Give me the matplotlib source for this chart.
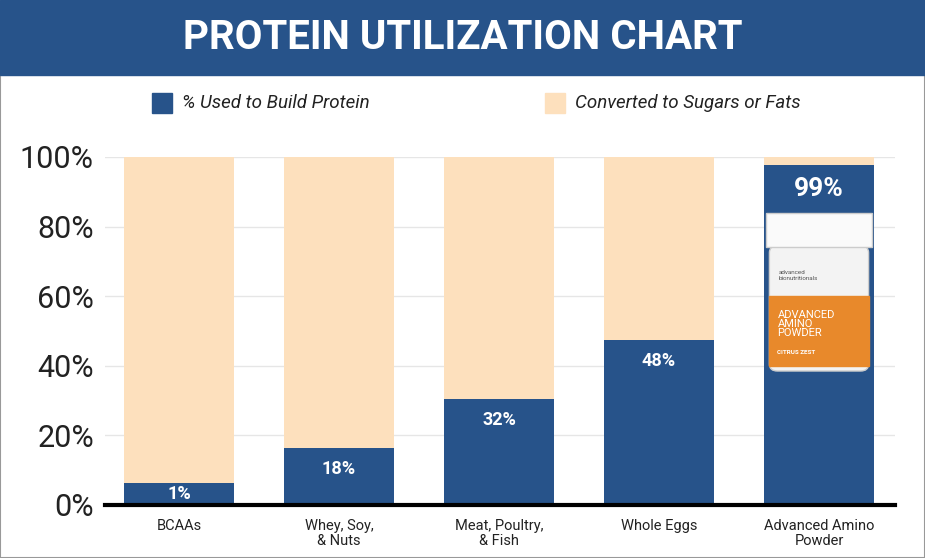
import matplotlib
matplotlib.use('Agg')
from matplotlib import pyplot as plt
from matplotlib.patches import FancyBboxPatch, Rectangle

plt.rcParams['font.family'] = ['Roboto', 'DejaVu Sans']

categories = ['BCAAs', 'Whey, Soy,\n& Nuts', 'Meat, Poultry,\n& Fish', 'Whole Eggs', 'Advanced Amino\nPowder']
used = [6.3, 16.4, 30.5, 47.4, 97.7]
labels = ['1%', '18%', '32%', '48%', '99%']
yticks = [0, 20, 40, 60, 80, 100]

blue = '#27538a'
peach = '#fde0bd'

fig = plt.figure(figsize=(9.25, 5.58), dpi=100)
fig.patches.append(Rectangle((0, 0), 1, 1, transform=fig.transFigure, fill=False,
                             edgecolor='#999999', lw=1.5))
fig.patches.append(Rectangle((0, 1 - 75 / 558), 1, 75 / 558, transform=fig.transFigure,
                             color=blue))
fig.text(0.5, 1 - 38 / 558, 'PROTEIN UTILIZATION CHART', color='white', fontsize=29,
         fontweight='bold', ha='center', va='center')

# legend
fig.patches.append(Rectangle((152 / 925, 1 - 113 / 558), 20 / 925, 20 / 558,
                             transform=fig.transFigure, color=blue))
fig.text(182 / 925, 1 - 103 / 558, '% Used to Build Protein', fontsize=13.5, style='italic',
         va='center', color='#222222')
fig.patches.append(Rectangle((545 / 925, 1 - 113 / 558), 20 / 925, 20 / 558,
                             transform=fig.transFigure, color=peach))
fig.text(575 / 925, 1 - 103 / 558, 'Converted to Sugars or Fats', fontsize=13.5,
         style='italic', va='center', color='#222222')

ax = fig.add_axes([105 / 925, 1 - 505 / 558, 790 / 925, 348 / 558])
x = list(range(len(categories)))
rest = [100 - u for u in used]
w = 0.6875
ax.bar(x, used, width=w, color=blue, zorder=2)
ax.bar(x, rest, bottom=used, width=w, color=peach, zorder=2)
for i, (u, lab) in enumerate(zip(used, labels)):
    if i == 0:
        ax.text(i, u / 2, lab, color='white', fontsize=13, fontweight='bold', ha='center', va='center')
    elif i == 4:
        ax.text(i, u - 7, lab, color='white', fontsize=19, fontweight='bold', ha='center', va='center')
    else:
        ax.text(i, u - 6, lab, color='white', fontsize=13, fontweight='bold', ha='center', va='center')

# simple jar picture on last bar
ax.add_patch(FancyBboxPatch((4 - 0.31, 38.5), 0.62, 36, boxstyle='round,pad=0,rounding_size=0.05',
                            facecolor='#f3f3f3', edgecolor='#cccccc', zorder=3, mutation_aspect=40))
ax.add_patch(Rectangle((4 - 0.31, 40), 0.62, 20, color='#e8892b', zorder=4))
ax.add_patch(Rectangle((4 - 0.33, 74), 0.66, 10, facecolor='#fafafa', edgecolor='#cccccc', zorder=4))
ax.text(4 - 0.25, 66, 'advanced\nbionutritionals', fontsize=4.5, color='#555555', va='center', zorder=5)
ax.text(4 - 0.26, 52, 'ADVANCED\nAMINO\nPOWDER', fontsize=8, color='white', va='center',
        linespacing=0.9, zorder=5)
ax.text(4 - 0.26, 43.5, 'CITRUS ZEST', fontsize=4.5, color='white', fontweight='bold', zorder=5)

ax.set_xlim(-0.4625, 4.475)
ax.set_ylim(0, 100)
ax.set_yticks(yticks)
ax.set_yticklabels([f'{t}%' for t in yticks], fontsize=22, color='#222222')
ax.set_xticks(x)
ax.set_xticklabels(categories, fontsize=10.5, color='#222222', linespacing=1.1, va='top')
ax.tick_params(length=0, pad=8)
ax.tick_params(axis='x', pad=10)
ax.yaxis.grid(True, color='#e6e6e6', lw=1, zorder=0)
for s in ['top', 'right', 'left']:
    ax.spines[s].set_visible(False)
ax.spines['bottom'].set_linewidth(3)
ax.spines['bottom'].set_zorder(5)

fig.savefig('out.png', dpi=100)
